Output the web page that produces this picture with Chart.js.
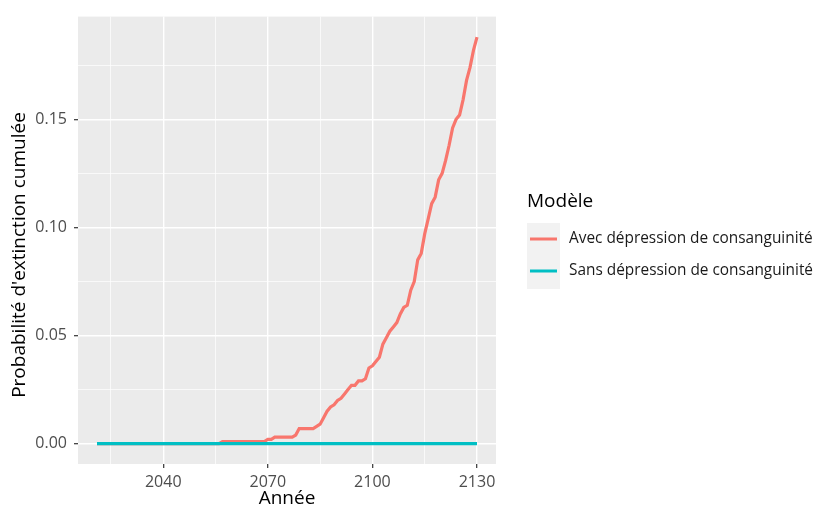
<!DOCTYPE html>
<html><head><meta charset="utf-8">
<script src="https://cdn.jsdelivr.net/npm/chart.js@4/dist/chart.umd.min.js"></script>
<style>html,body{margin:0;padding:0;background:#fff;}#wrap{width:821px;height:509px;position:relative}</style>
</head><body><div id="wrap"><canvas id="c" width="821" height="509"></canvas></div>
<script>
const years = [2021,2022,2023,2024,2025,2026,2027,2028,2029,2030,
2031,2032,2033,2034,2035,2036,2037,2038,2039,2040,
2041,2042,2043,2044,2045,2046,2047,2048,2049,2050,
2051,2052,2053,2054,2055,2056,2057,2058,2059,2060,
2061,2062,2063,2064,2065,2066,2067,2068,2069,2070,
2071,2072,2073,2074,2075,2076,2077,2078,2079,2080,
2081,2082,2083,2084,2085,2086,2087,2088,2089,2090,
2091,2092,2093,2094,2095,2096,2097,2098,2099,2100,
2101,2102,2103,2104,2105,2106,2107,2108,2109,2110,
2111,2112,2113,2114,2115,2116,2117,2118,2119,2120,
2121,2122,2123,2124,2125,2126,2127,2128,2129,2130];
const avecDepression = [0,0,0,0,0,0,0,0,0,0,
0,0,0,0,0,0,0,0,0,0,
0,0,0,0,0,0,0,0,0,0,
0,0,0,0,0,0,0.001,0.001,0.001,0.001,
0.001,0.001,0.001,0.001,0.001,0.001,0.001,0.001,0.001,0.002,
0.002,0.003,0.003,0.003,0.003,0.003,0.003,0.004,0.007,0.007,
0.007,0.007,0.007,0.008,0.009,0.012,0.015,0.017,0.018,0.020,
0.021,0.023,0.025,0.027,0.027,0.029,0.029,0.030,0.035,0.036,
0.038,0.040,0.046,0.049,0.052,0.054,0.056,0.060,0.063,0.064,
0.071,0.075,0.085,0.088,0.097,0.104,0.111,0.114,0.122,0.125,
0.131,0.138,0.146,0.150,0.152,0.159,0.168,0.174,0.182,0.188];
const sansDepression = [0,0,0,0,0,0,0,0,0,0,
0,0,0,0,0,0,0,0,0,0,
0,0,0,0,0,0,0,0,0,0,
0,0,0,0,0,0,0,0,0,0,
0,0,0,0,0,0,0,0,0,0,
0,0,0,0,0,0,0,0,0,0,
0,0,0,0,0,0,0,0,0,0,
0,0,0,0,0,0,0,0,0,0,
0,0,0,0,0,0,0,0,0,0,
0,0,0,0,0,0,0,0,0,0,
0,0,0,0,0,0,0,0,0,0];
const seriesNames = ["Avec dépression de consanguinité","Sans dépression de consanguinité"];
const seriesColors = ["#F8766D","#00BFC4"];
const xMajorTicks = [2040,2070,2100,2130];
const xMinorTicks = [2025,2055,2085,2115];
const yMajorTicks = [0,0.05,0.10,0.15];
const yMinorTicks = [0.025,0.075,0.125,0.175];
const legendTitle = "Modèle";
const xTitle = "Année";
const yTitle = "Probabilité d'extinction cumulée";

const FONT = "'Open Sans', Lato, sans-serif";
const xMin = 2015.55, xMax = 2135.45, yMin = -0.0094, yMax = 0.1975;

const toPts = arr => years.map((y,i)=>({x:y,y:arr[i]}));

const panelBg = {
  id:'panelBg',
  beforeDraw(chart){
    const {ctx, chartArea:a} = chart;
    ctx.save(); ctx.fillStyle='#EBEBEB';
    ctx.fillRect(a.left,a.top,a.right-a.left,a.bottom-a.top); ctx.restore();
  }
};
const titlesAndLegend = {
  id:'ggLegend',
  afterDraw(chart){
    const ctx = chart.ctx;
    const a = chart.chartArea;
    ctx.save();
    ctx.fillStyle='#000'; ctx.font = "19px "+FONT; ctx.textBaseline='middle';
    ctx.textAlign='center';
    ctx.fillText(xTitle, (a.left+a.right)/2, 499);
    ctx.save(); ctx.translate(20, 255); ctx.rotate(-Math.PI/2);
    ctx.fillText(yTitle, 0, 0); ctx.restore();
    ctx.textAlign='left';
    ctx.fillText(legendTitle, 527, 202);
    ctx.fillStyle='#F2F2F2';
    ctx.fillRect(527,223,33,66);
    ctx.font = "15.4px "+FONT;
    chart.data.datasets.forEach((ds,i)=>{
      const cy = 239 + i*32;
      ctx.strokeStyle = ds.borderColor; ctx.lineWidth = 3; ctx.lineCap='butt';
      ctx.beginPath(); ctx.moveTo(530,cy); ctx.lineTo(557,cy); ctx.stroke();
      ctx.fillStyle='#1a1a1a';
      ctx.fillText(ds.label, 569, cy);
    });
    ctx.restore();
  }
};

new Chart(document.getElementById('c'), {
  type:'line',
  data:{datasets:[
    {label:seriesNames[0], data:toPts(avecDepression), borderColor:seriesColors[0], borderWidth:3.2, pointRadius:0, tension:0, fill:false, order:1},
    {label:seriesNames[1], data:toPts(sansDepression), borderColor:seriesColors[1], borderWidth:3.2, pointRadius:0, tension:0, fill:false, order:0}
  ]},
  options:{
    responsive:false, animation:false, devicePixelRatio:1,
    layout:{padding:{left:0,right:325,top:15,bottom:0}},
    plugins:{legend:{display:false}, tooltip:{enabled:false}},
    scales:{
      x:{type:'linear', min:xMin, max:xMax,
        afterFit(s){ s.height = 45; },
        afterBuildTicks(s){ s.ticks = [...xMinorTicks, ...xMajorTicks].sort((a,b)=>a-b).map(v=>({value:v})); },
        ticks:{autoSkip:false, maxRotation:0, padding:5, color:'#4D4D4D', font:{family:FONT,size:16},
          callback:(v)=> xMajorTicks.includes(v) ? String(v) : ''},
        grid:{color:'#FFFFFF', lineWidth:c=> xMajorTicks.includes(c.tick.value)?1.4:0.7,
          tickColor:c=> xMajorTicks.includes(c.tick.value)?'#333333':'rgba(0,0,0,0)', tickLength:4, tickWidth:1.2},
        border:{display:false},
        title:{display:false}
      },
      y:{type:'linear', min:yMin, max:yMax,
        afterFit(s){ s.width = 78; },
        afterBuildTicks(s){ s.ticks = [...yMajorTicks, ...yMinorTicks].sort((a,b)=>a-b).map(v=>({value:v})); },
        ticks:{autoSkip:false, padding:7, color:'#4D4D4D', font:{family:FONT,size:16},
          callback:(v)=> yMajorTicks.some(t=>Math.abs(t-v)<1e-9) ? v.toFixed(2) : ''},
        grid:{color:'#FFFFFF', lineWidth:c=> yMajorTicks.some(t=>Math.abs(t-c.tick.value)<1e-9)?1.4:0.7,
          tickColor:c=> yMajorTicks.some(t=>Math.abs(t-c.tick.value)<1e-9)?'#333333':'rgba(0,0,0,0)', tickLength:4, tickWidth:1.2},
        border:{display:false},
        title:{display:false}
      }
    }
  },
  plugins:[panelBg, titlesAndLegend]
});
</script></body></html>
